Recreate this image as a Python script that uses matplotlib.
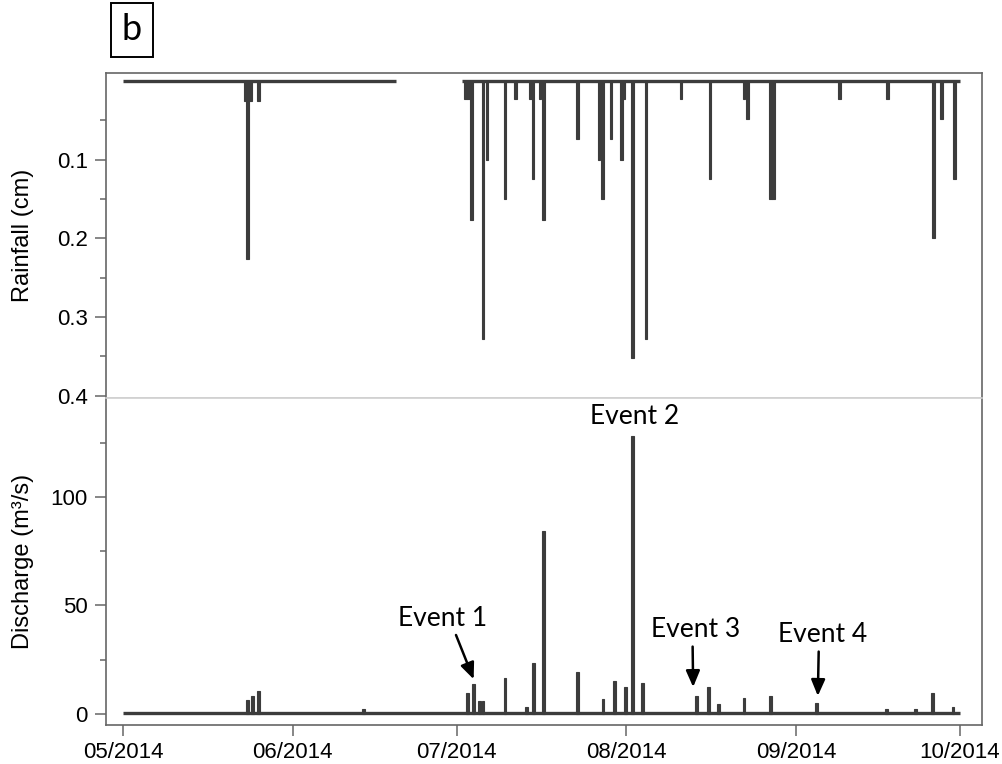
import pandas as pd
import matplotlib
matplotlib.use("Agg")
import matplotlib.pyplot as plt
import matplotlib.dates as mdates
from matplotlib.ticker import FixedLocator

# rainfall spikes (cm)
rain_times = ["2014-05-23 10:00", "2014-05-23 17:00", "2014-05-24 07:00", "2014-05-25 19:00",
              "2014-07-02 14:00", "2014-07-03 02:00", "2014-07-03 18:00", "2014-07-05 19:00",
              "2014-07-06 12:00", "2014-07-09 19:00", "2014-07-11 19:00", "2014-07-14 12:00",
              "2014-07-14 22:00", "2014-07-16 05:00", "2014-07-16 19:00", "2014-07-23 00:00",
              "2014-07-27 00:00", "2014-07-27 14:00", "2014-07-29 05:00", "2014-07-31 02:00",
              "2014-07-31 14:00", "2014-08-02 02:00", "2014-08-04 14:00", "2014-08-11 00:00",
              "2014-08-16 07:00", "2014-08-22 12:00", "2014-08-23 05:00", "2014-08-27 07:00",
              "2014-08-27 22:00", "2014-09-09 00:00", "2014-09-17 19:00", "2014-09-26 05:00",
              "2014-09-27 14:00", "2014-09-30 00:00"]
rain_cm = [0.025, 0.226, 0.025, 0.025,
           0.023, 0.023, 0.177, 0.328,
           0.100, 0.150, 0.023, 0.023,
           0.125, 0.023, 0.177, 0.074,
           0.100, 0.150, 0.074, 0.100,
           0.023, 0.352, 0.328, 0.023,
           0.125, 0.023, 0.048, 0.150,
           0.150, 0.023, 0.023, 0.200,
           0.048, 0.125]
# periods with rainfall record
rain_start = ["2014-05-01 00:00", "2014-07-02 00:00"]
rain_end = ["2014-06-19 22:00", "2014-10-01 00:00"]

# discharge peaks (m3/s)
flow_times = ["2014-05-23 17:00", "2014-05-24 17:00", "2014-05-25 19:00", "2014-06-13 22:00",
              "2014-07-03 00:00", "2014-07-04 00:00", "2014-07-05 05:00", "2014-07-05 19:00",
              "2014-07-09 19:00", "2014-07-13 19:00", "2014-07-15 02:00", "2014-07-16 19:00",
              "2014-07-23 00:00", "2014-07-27 17:00", "2014-07-29 19:00", "2014-07-31 19:00",
              "2014-08-02 02:00", "2014-08-03 22:00", "2014-08-13 19:00", "2014-08-16 00:00",
              "2014-08-17 19:00", "2014-08-22 12:00", "2014-08-27 07:00", "2014-09-04 19:00",
              "2014-09-17 12:00", "2014-09-22 22:00", "2014-09-25 22:00", "2014-09-29 17:00"]
flow_m3s = [6.4, 8.3, 10.6, 2.3,
            9.7, 13.8, 6.0, 6.0,
            16.6, 3.2, 23.5, 84.3,
            19.5, 6.9, 15.3, 12.3,
            128.0, 14.1, 8.4, 12.3,
            4.6, 7.2, 8.4, 4.9,
            2.2, 2.2, 9.5, 3.1]
flow_base = 0.5
flow_start = "2014-05-01 00:00"
flow_end = "2014-10-01 00:00"

# event labels
event_names = ["Event 1", "Event 3", "Event 4"]
event_tip_t = ["2014-07-04 02:00", "2014-08-13 05:00", "2014-09-05 00:00"]
event_tip_q = [16.0, 12.4, 8.3]
event_txt_t = ["2014-06-28 10:00", "2014-08-13 18:00", "2014-09-05 20:00"]
event_txt_q = [44.0, 38.7, 36.4]
event_rel = [(0.62, 0.1), (0.46, 0.1), (0.46, 0.1)]
event2_t = "2014-08-02 14:00"
event2_q = 137.0

month_ticks = ["2014-05-01", "2014-06-01", "2014-07-01", "2014-08-01", "2014-09-01", "2014-10-01"]

bar_col = "#3c3c3c"
spine_col = "#666666"

plt.rcParams["font.family"] = ["Liberation Sans", "DejaVu Sans"]

fig = plt.figure(figsize=(10.03, 7.64), dpi=100)
ax1 = fig.add_axes([0.1057, 0.479, 0.8733, 0.4255])
ax2 = fig.add_axes([0.1057, 0.051, 0.8733, 0.428], sharex=ax1)

# rainfall
ax1.hlines([0] * len(rain_start), pd.to_datetime(rain_start), pd.to_datetime(rain_end),
           color=bar_col, lw=2.4)
ax1.bar(pd.to_datetime(rain_times), rain_cm, width=0.5, color=bar_col,
        edgecolor=bar_col, linewidth=0.8, bottom=0)
ax1.set_ylim(0.403, -0.0102)
ax1.yaxis.set_major_locator(FixedLocator([0.1, 0.2, 0.3, 0.4]))
ax1.yaxis.set_minor_locator(FixedLocator([0.05, 0.15, 0.25, 0.35]))
ax1.set_ylabel("Rainfall (cm)", fontsize=17)
ax1.tick_params(axis="x", which="both", bottom=False, labelbottom=False)

# discharge
ax2.hlines(flow_base, pd.Timestamp(flow_start), pd.Timestamp(flow_end), color=bar_col, lw=2.4)
ax2.bar(pd.to_datetime(flow_times), flow_m3s, width=0.5, color=bar_col,
        edgecolor=bar_col, linewidth=0.8, bottom=0)
ax2.set_ylim(-5.1, 145.5)
ax2.yaxis.set_major_locator(FixedLocator([0, 50, 100]))
ax2.yaxis.set_minor_locator(FixedLocator([25, 75, 125]))
ax2.set_ylabel("Discharge (m³/s)", fontsize=17)

ax2.set_xlim(pd.Timestamp("2014-04-27 21:00"), pd.Timestamp("2014-10-05 00:00"))
ax2.xaxis.set_major_locator(FixedLocator(mdates.date2num(pd.to_datetime(month_ticks))))
ax2.xaxis.set_major_formatter(mdates.DateFormatter("%m/%Y"))

for ax in (ax1, ax2):
    for s in ax.spines.values():
        s.set_color(spine_col)
        s.set_linewidth(1.2)
    ax.tick_params(which="major", length=8, width=1.1, color=spine_col, labelsize=16)
    ax.tick_params(which="minor", length=4.5, width=1.1, color=spine_col)
    ax.tick_params(axis="y", which="major", pad=5)
    ax.tick_params(axis="x", which="major", pad=4)
    ax.yaxis.set_label_coords(-0.082, 0.5)
ax1.spines["bottom"].set_color("#d0d0d0")
ax2.spines["top"].set_color("#d0d0d0")

for name, tt, tq, xt, xq, rp in zip(event_names, event_tip_t, event_tip_q,
                                    event_txt_t, event_txt_q, event_rel):
    ax2.annotate(name, xy=(pd.Timestamp(tt), tq), xytext=(pd.Timestamp(xt), xq),
                 ha="center", va="center", fontsize=19, family=["Lato", "DejaVu Sans"],
                 arrowprops=dict(arrowstyle="-|>,head_length=0.7,head_width=0.3",
                                 color="black", lw=1.8, shrinkA=1, shrinkB=0,
                                 relpos=rp, mutation_scale=14))
ax2.text(pd.Timestamp(event2_t), event2_q, "Event 2", ha="center", va="center",
         fontsize=19, family=["Lato", "DejaVu Sans"])

fig.text(132 / 1003, 1 - 30 / 764, "b", ha="center", va="center", fontsize=26,
         family=["Lato", "DejaVu Sans"],
         bbox=dict(boxstyle="square,pad=0.3", fc="white", ec="black", lw=1.4))

fig.savefig("out.png", dpi=100)
